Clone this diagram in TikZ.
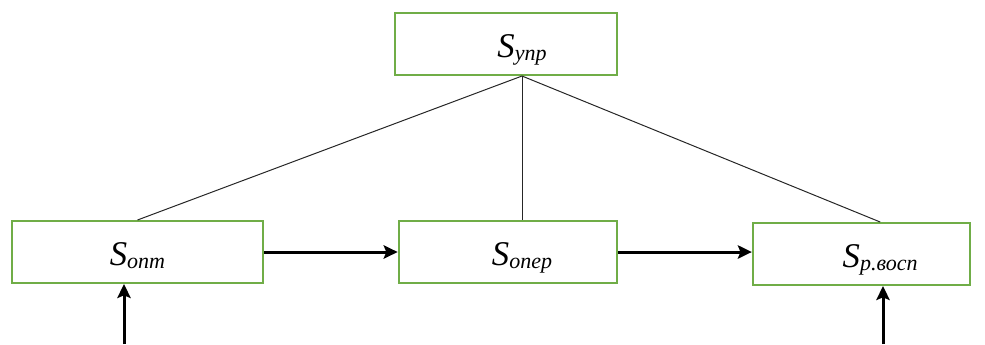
\documentclass[tikz,border=0pt]{standalone}
\usepackage{fontspec}
\setmainfont{Liberation Serif}
\usetikzlibrary{arrows.meta}
\definecolor{boxgreen}{RGB}{112,173,71}
\newcommand{\subS}[1]{\textit{S}\raisebox{-0.1em}{\fontsize{16.5pt}{16.5pt}\selectfont\textit{#1}}}
\begin{document}
\begin{tikzpicture}[x=0.75pt,y=-0.75pt,
  block/.style={draw=boxgreen,line width=1.5pt,fill=white,inner sep=0pt,
    minimum height=46.5pt},
  tag/.style={inner sep=0pt,text height=22pt,text depth=2.5pt,
    font=\fontsize{26pt}{26pt}\selectfont},
  link/.style={line width=0.75pt,draw=black!85},
  flow/.style={line width=2.25pt,-{Stealth[length=10.5pt,width=10pt,inset=2pt]}}]
\useasboundingbox (0,0) rectangle (985,344);
% blocks with their names
\node[block,minimum width=166.5pt,
  label={[tag,name=uprT,xshift=12pt]center:\subS{упр}}] (upr) at (506,44) {};
\node[block,minimum width=188pt,
  label={[tag,name=optT]center:\subS{опт}}] (opt) at (137.5,252) {};
\node[block,minimum width=164pt,
  label={[tag,name=operT,xshift=10.5pt]center:\subS{опер}}] (oper) at (508,252) {};
\node[block,minimum width=163pt,
  label={[tag,name=vospT,xshift=14pt]center:\subS{р.восп}}] (vosp) at (861.5,254) {};
% links from the control block
\coordinate (apex) at (operT |- upr.south);
\draw[link] (apex) -- (opt.north);
\draw[link] (apex) -- (oper.north -| apex);
\draw[link] (apex) -- (vosp.north -| vospT);
% main flow
\draw[flow] (opt.east) -- (opt.east -| oper.west);
\draw[flow] (oper.east) -- (oper.east -| vosp.west);
% incoming arrows from below
\coordinate (inL) at (124,344);
\coordinate (inR) at (883,344);
\draw[flow] (inL) -- (inL |- opt.south);
\draw[flow] (inR) -- (inR |- vosp.south);
\end{tikzpicture}
\end{document}
